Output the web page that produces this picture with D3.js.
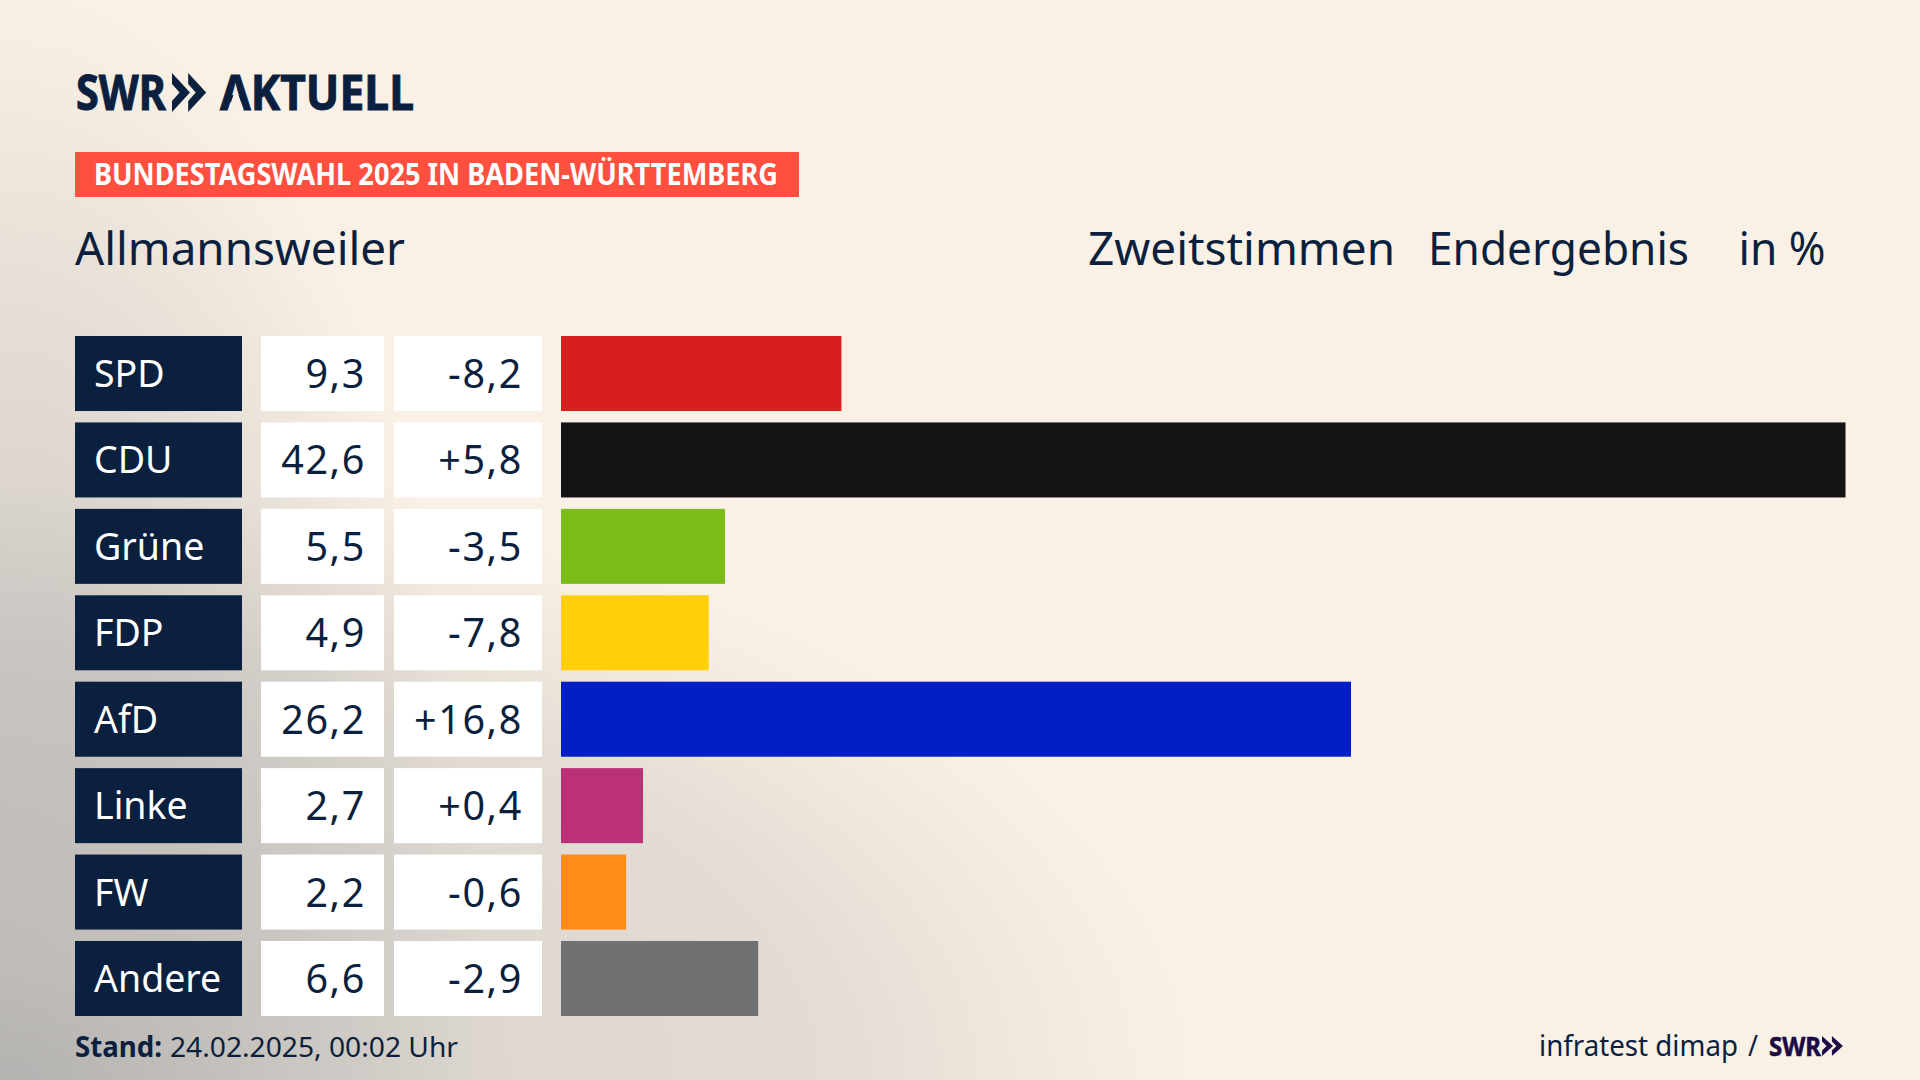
<!DOCTYPE html>
<html>
<head>
<meta charset="utf-8">
<script src="https://cdn.jsdelivr.net/npm/d3@7"></script>
<style>
html, body { margin: 0; padding: 0; background: #faf1e6; overflow: hidden; }
text { font-family: "Noto Sans", sans-serif; }
</style>
</head>
<body>
<div id="chart"></div>
<script>
let parties = ["SPD", "CDU", "Grüne", "FDP", "AfD", "Linke", "FW", "Andere"];
// bar lengths as measured, the labels are the rounded figures printed next to them
let shares = [9.3, 42.6, 5.44, 4.9, 26.2, 2.72, 2.16, 6.54];
let shareLabels = ["9,3", "42,6", "5,5", "4,9", "26,2", "2,7", "2,2", "6,6"];
let changeLabels = ["-8,2", "+5,8", "-3,5", "-7,8", "+16,8", "+0,4", "-0,6", "-2,9"];
let colors = ["#d81f1f", "#141414", "#7abd1b", "#ffcf0a", "#0020c5", "#bb3175", "#ff8c15", "#707173"];

let width = 1920;
let height = 1080;
let navy = "#0b1f3e";

let svg = d3.select("#chart").append("svg")
    .attr("width", width)
    .attr("height", height)
    .style("display", "block");

// background: cream with a grey glow out of the bottom left corner,
// one flat ellipse along the bottom and one tall ellipse up the left edge
let defs = svg.append("defs");
function glow(id, rx, ry, stops) {
    defs.append("radialGradient")
        .attr("id", id)
        .attr("gradientUnits", "userSpaceOnUse")
        .attr("cx", 0).attr("cy", 0).attr("r", 1)
        .attr("gradientTransform", `translate(0,1080) scale(${rx},${ry})`)
        .selectAll("stop")
        .data(stops)
        .join("stop")
        .attr("offset", d => d[0])
        .attr("stop-color", "#a5a5a5")
        .attr("stop-opacity", d => d[1]);
}
glow("glowWide", 1200, 600, [[0, 0.6], [0.2, 0.36], [0.45, 0.33], [0.7, 0.27], [0.85, 0.12], [1, 0]]);
glow("glowTall", 500, 1100, [[0, 0.55], [0.45, 0.42], [0.7, 0.25], [0.9, 0.08], [1, 0]]);

svg.append("rect").attr("width", width).attr("height", height).attr("fill", "#faf1e6");
svg.append("rect").attr("width", width).attr("height", height).attr("fill", "url(#glowWide)");
svg.append("rect").attr("width", width).attr("height", height).attr("fill", "url(#glowTall)");

// fit text to the width
function put(sel, x, y, str, size, len, opts = {}) {
    return sel.append("text")
        .attr("x", x).attr("y", y)
        .attr("font-size", size)
        .attr("font-weight", opts.weight || 400)
        .attr("fill", opts.fill || navy)
        .attr("stroke", opts.stroke ? (opts.fill || navy) : null)
        .attr("stroke-width", opts.stroke || null)
        .attr("textLength", len)
        .attr("lengthAdjust", "spacingAndGlyphs")
        .text(str);
}

function chevrons(sel, x, y, w, h, fill) {
    [0, w * 0.9].forEach(dx => {
        sel.append("path")
            .attr("transform", `translate(${x + dx},${y})`)
            .attr("fill", fill)
            .attr("d", d3.line()([[0, 0], [w, h / 2], [0, h], [0, h * 0.72], [w * 0.42, h / 2], [0, h * 0.28]]) + "Z");
    });
}

// header
let head = svg.append("g");
put(head, 76, 110, "SWR", 49, 90, { weight: 700, stroke: 1 });
chevrons(head, 172, 73, 18, 39, navy);
put(head, 220, 110, "AKTUELL", 49, 194, { weight: 700, stroke: 1 });
// the logo's A has no crossbar
head.append("path")
    .attr("fill", "#f8f0e5")
    .attr("d", d3.line()([[236, 88], [228, 110.5], [244, 110.5]]) + "Z");

head.append("rect").attr("x", 75).attr("y", 152).attr("width", 724).attr("height", 45).attr("fill", "#ff4f3f");
put(head, 94, 185, "BUNDESTAGSWAHL 2025 IN BADEN-WÜRTTEMBERG", 30, 684, { weight: 700, fill: "#ffffff" });

put(head, 75, 265, "Allmannsweiler", 45, 330);
put(head, 1088, 265, "Zweitstimmen", 45, 307);
put(head, 1428, 265, "Endergebnis", 45, 261);
put(head, 1738.5, 265, "in %", 45, 87);

// rows
let y = d3.scaleBand().domain(parties).range([336, 1016]).paddingInner(0.132);
let x = d3.scaleLinear().domain([0, 42.6]).range([561, 1845.5]);

let row = svg.append("g").selectAll("g")
    .data(parties)
    .join("g")
    .attr("transform", d => `translate(0,${y(d)})`);

let bh = y.bandwidth();
row.append("rect").attr("x", 75).attr("width", 167).attr("height", bh).attr("fill", navy);
row.append("rect").attr("x", 261).attr("width", 123).attr("height", bh).attr("fill", "#fff");
row.append("rect").attr("x", 394).attr("width", 148).attr("height", bh).attr("fill", "#fff");
row.append("rect")
    .attr("x", x(0))
    .attr("width", (d, i) => x(shares[i]) - x(0))
    .attr("height", bh)
    .attr("fill", (d, i) => colors[i]);

row.append("text")
    .attr("x", 94).attr("y", bh / 2 + 13.5)
    .attr("font-size", 37.5).attr("fill", "#fff")
    .text(d => d);
row.append("text")
    .attr("x", 366).attr("y", bh / 2 + 14.5)
    .attr("text-anchor", "end")
    .attr("font-size", 39.5).attr("letter-spacing", 1.6).attr("fill", navy)
    .text((d, i) => shareLabels[i]);
row.append("text")
    .attr("x", 523).attr("y", bh / 2 + 14.5)
    .attr("text-anchor", "end")
    .attr("font-size", 39.5).attr("letter-spacing", 1.6).attr("fill", navy)
    .text((d, i) => changeLabels[i]);

// footer
let foot = svg.append("g");
put(foot, 75, 1057, "Stand:", 28, 87, { weight: 700 });
put(foot, 170, 1057, "24.02.2025, 00:02 Uhr", 28, 288);
put(foot, 1539, 1056, "infratest dimap", 29, 199);
put(foot, 1748, 1056, "/", 29, 10);
put(foot, 1769, 1056, "SWR", 27, 52, { weight: 700, fill: "#1e0a44", stroke: 0.6 });
chevrons(foot, 1822, 1036, 11, 20, "#1e0a44");
</script>
</body>
</html>
